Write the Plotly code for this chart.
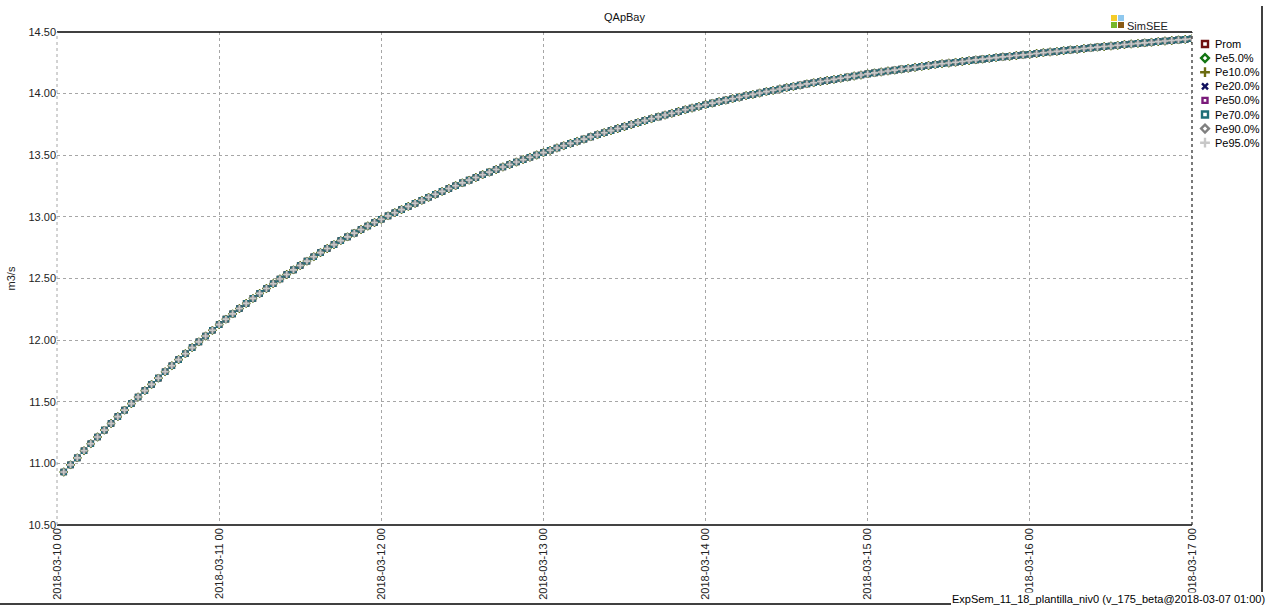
import plotly.graph_objects as go
import pandas as pd

# ---- data (hourly values, m3/s) ----
series_names = ["Prom", "Pe5.0%", "Pe10.0%", "Pe20.0%", "Pe50.0%", "Pe70.0%", "Pe90.0%", "Pe95.0%"]

qapbay = [
    10.930, 10.988, 11.045, 11.102, 11.159, 11.214, 11.270, 11.324, 11.379, 11.432, 11.485, 11.538,
    11.590, 11.641, 11.692, 11.743, 11.792, 11.842, 11.890, 11.939, 11.986, 12.033, 12.080, 12.126,
    12.170, 12.213, 12.256, 12.298, 12.339, 12.379, 12.419, 12.458, 12.496, 12.533, 12.570, 12.606,
    12.641, 12.676, 12.710, 12.743, 12.775, 12.807, 12.838, 12.868, 12.897, 12.926, 12.954, 12.981,
    13.008, 13.034, 13.059, 13.085, 13.110, 13.135, 13.159, 13.183, 13.207, 13.230, 13.253, 13.276,
    13.298, 13.320, 13.342, 13.363, 13.384, 13.405, 13.425, 13.445, 13.464, 13.484, 13.502, 13.521,
    13.540, 13.559, 13.577, 13.596, 13.614, 13.631, 13.649, 13.666, 13.683, 13.700, 13.717, 13.733,
    13.749, 13.765, 13.781, 13.796, 13.811, 13.826, 13.841, 13.855, 13.869, 13.883, 13.897, 13.910,
    13.923, 13.935, 13.947, 13.959, 13.971, 13.983, 13.994, 14.005, 14.016, 14.027, 14.038, 14.048,
    14.059, 14.069, 14.079, 14.088, 14.098, 14.107, 14.116, 14.125, 14.134, 14.143, 14.151, 14.160,
    14.168, 14.176, 14.184, 14.191, 14.199, 14.206, 14.214, 14.221, 14.228, 14.235, 14.242, 14.248,
    14.255, 14.261, 14.268, 14.274, 14.280, 14.286, 14.292, 14.298, 14.303, 14.309, 14.314, 14.320,
    14.326, 14.332, 14.338, 14.343, 14.349, 14.355, 14.360, 14.366, 14.371, 14.377, 14.382, 14.387,
    14.392, 14.398, 14.403, 14.408, 14.412, 14.417, 14.422, 14.427, 14.431, 14.436, 14.440, 14.445,
]

times = pd.date_range("2018-03-10 01:00", periods=len(qapbay), freq="h")

x_ticks = pd.date_range("2018-03-10", "2018-03-17", freq="D")
y_ticks = [10.5, 11.0, 11.5, 12.0, 12.5, 13.0, 13.5, 14.0, 14.5]

# ---- styles ----
symbols = ["square-open", "diamond-open", "cross-thin-open", "x-thin-open",
           "square-open", "square-open", "diamond-open", "cross-thin-open"]
colors = ["#6e1010", "#127512", "#6b6b10", "#10105e", "#7a1a7a", "#1f6f78", "#808080", "#c8c8c8"]
sizes = [5, 5, 6, 5, 4, 5, 4, 5]
leg_sizes = [6, 6, 7, 6, 5, 6, 6, 7]

W, H = 1274, 608
L, R, T, B = 57, 1192, 32, 525   # plot-area box in pixels

# legend layout (pixels)
LEG_SYM_X = 1205
LEG_TXT_X = 1213
LEG_Y0, LEG_DY = 44, 14.1


def fx(x):  # pixel -> figure fraction
    return x / W


def fy(y):
    return 1 - y / H


fig = go.Figure()
for name, sym, col, sz in zip(series_names, symbols, colors, sizes):
    fig.add_trace(go.Scatter(
        x=times, y=qapbay, name=name, mode="markers", showlegend=False,
        marker=dict(symbol=sym, color=col, size=sz, opacity=1, line=dict(color=col, width=1.6)),
    ))

# legend glyphs on a hidden axis pair that spans the whole figure in pixels
leg_y = [LEG_Y0 + i * LEG_DY for i in range(len(series_names))]
fig.add_trace(go.Scatter(
    x=[LEG_SYM_X] * len(series_names), y=leg_y, mode="markers",
    xaxis="x2", yaxis="y2", showlegend=False, hoverinfo="skip",
    marker=dict(symbol=symbols, color=colors, size=leg_sizes, opacity=1,
                line=dict(color=colors, width=2.4)),
))

font = "Liberation Sans, Arial, sans-serif"
grid = "#a6a6a6"

fig.update_layout(
    width=W, height=H,
    margin=dict(l=0, r=0, t=0, b=0, pad=0, autoexpand=False),
    paper_bgcolor="white", plot_bgcolor="rgba(0,0,0,0)",
    font=dict(family=font, size=11, color="#000"),
    showlegend=False,
    xaxis=dict(
        domain=[fx(L), fx(R)], anchor="y",
        type="date", range=[x_ticks[0], x_ticks[-1]], automargin=False,
        tickvals=list(x_ticks), ticktext=[t.strftime("%Y-%m-%d %H") for t in x_ticks],
        tickangle=-90, ticks="", showgrid=True, gridcolor=grid, griddash="3px,3px", gridwidth=1,
        showline=False, zeroline=False, tickfont=dict(size=11, color="#222"),
    ),
    yaxis=dict(
        domain=[fy(B), fy(T)], anchor="x",
        range=[10.5, 14.5], tickvals=y_ticks, ticktext=[f"{v:.2f}" for v in y_ticks],
        automargin=False,
        showgrid=True, gridcolor=grid, griddash="3px,3px", gridwidth=1,
        showline=False, zeroline=False, ticks="", tickfont=dict(size=11, color="#222"),
        title=dict(text="m3/s", font=dict(size=11, color="#222"), standoff=10),
    ),
    xaxis2=dict(domain=[0, 1], anchor="y2", range=[0, W], visible=False, fixedrange=True),
    yaxis2=dict(domain=[0, 1], anchor="x2", range=[H, 0], visible=False, fixedrange=True),
)

shapes = [
    dict(type="line", xref="paper", yref="paper", x0=fx(L), x1=fx(R), y0=fy(T), y1=fy(T),
         line=dict(color="#000", width=1.5)),
    dict(type="line", xref="paper", yref="paper", x0=fx(L), x1=fx(R), y0=fy(B), y1=fy(B),
         line=dict(color="#444", width=2)),
    dict(type="line", xref="paper", yref="paper", x0=fx(R), x1=fx(R), y0=fy(B), y1=fy(T),
         line=dict(color="#222", width=1.2, dash="3px,3px")),
    dict(type="line", xref="paper", yref="paper", x0=fx(L), x1=fx(L), y0=fy(B), y1=fy(T),
         line=dict(color=grid, width=1, dash="3px,3px")),
    dict(type="line", xref="paper", yref="paper", x0=fx(1262), x1=fx(1262), y0=fy(6), y1=fy(592),
         line=dict(color="#000", width=1.5)),
    dict(type="line", xref="paper", yref="paper", x0=fx(0), x1=fx(951), y0=fy(604), y1=fy(604),
         line=dict(color="#000", width=1.5)),
    dict(type="rect", xref="paper", yref="paper", x0=fx(1111), x1=fx(1117), y0=fy(21), y1=fy(15),
         fillcolor="#f5cc2a", line=dict(width=0)),
    dict(type="rect", xref="paper", yref="paper", x0=fx(1118), x1=fx(1124), y0=fy(21), y1=fy(15),
         fillcolor="#8fc8ee", line=dict(width=0)),
    dict(type="rect", xref="paper", yref="paper", x0=fx(1111), x1=fx(1117), y0=fy(28), y1=fy(22),
         fillcolor="#76b82a", line=dict(width=0)),
    dict(type="rect", xref="paper", yref="paper", x0=fx(1118), x1=fx(1124), y0=fy(28), y1=fy(22),
         fillcolor="#8a5a14", line=dict(width=0)),
]
fig.update_layout(shapes=shapes)

for name, yy in zip(series_names, leg_y):
    fig.add_annotation(text=name, xref="paper", yref="paper", x=fx(LEG_TXT_X), y=fy(yy),
                       xanchor="left", yanchor="middle", showarrow=False,
                       font=dict(size=11, color="#000"))

fig.add_annotation(text="QApBay", xref="paper", yref="paper", x=fx(624), y=fy(17),
                   xanchor="center", yanchor="middle", showarrow=False,
                   font=dict(size=11, color="#111"))
fig.add_annotation(text="SimSEE", xref="paper", yref="paper", x=fx(1125), y=fy(26),
                   xanchor="left", yanchor="middle", showarrow=False,
                   font=dict(size=11, color="#222"))
fig.add_annotation(text="ExpSem_11_18_plantilla_niv0 (v_175_beta@2018-03-07 01:00)",
                   xref="paper", yref="paper", x=fx(951), y=fy(599),
                   xanchor="left", yanchor="middle", showarrow=False,
                   bgcolor="white", borderpad=0,
                   font=dict(size=11, color="#000"))

fig.write_html("out.html", config={"displayModeBar": False},
               post_script="document.body.style.margin='0px';")
